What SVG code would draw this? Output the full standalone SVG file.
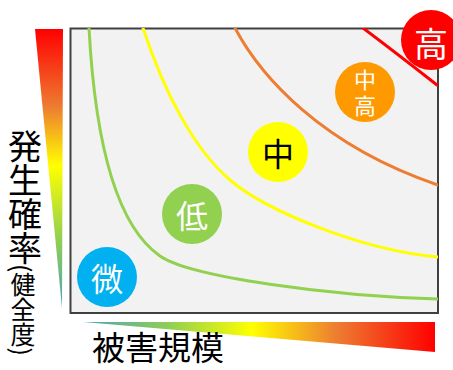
<svg xmlns="http://www.w3.org/2000/svg" width="453" height="370" viewBox="0 0 453 370">
<defs>
<linearGradient id="gv" x1="0" y1="0" x2="0" y2="1">
<stop offset="0" stop-color="#ff0000"/>
<stop offset="0.28" stop-color="#ed7d31"/>
<stop offset="0.49" stop-color="#ffff00"/>
<stop offset="0.75" stop-color="#92d050"/>
<stop offset="1" stop-color="#4aa4b8"/>
</linearGradient>
<linearGradient id="gh" x1="0" y1="0" x2="1" y2="0">
<stop offset="0" stop-color="#4aa4b8"/>
<stop offset="0.25" stop-color="#92d050"/>
<stop offset="0.48" stop-color="#ffff00"/>
<stop offset="0.72" stop-color="#ed7d31"/>
<stop offset="1" stop-color="#ff0000"/>
</linearGradient>
<clipPath id="box"><rect x="70" y="28" width="368" height="285"/></clipPath>
<style>
text{font-family:"Noto Sans CJK JP","Noto Sans CJK SC",sans-serif}
.c{fill:none;stroke-width:3;stroke-linecap:round}
.lbl{text-anchor:middle;dominant-baseline:central}
</style>
</defs>
<polygon points="35,29 63,29 62,308" fill="url(#gv)"/>
<polygon points="83,322 435,322 435,352" fill="url(#gh)"/>
<rect x="70.5" y="28.5" width="367.5" height="284.5" fill="#f2f2f2" stroke="#404040" stroke-width="2"/>
<g id="connectors" clip-path="url(#box)">
<path class="c" stroke="#92d050" d="M89,28 C95,140 115,225 160,256 C190,277 330,296 438,299"/>
<path class="c" stroke="#ffff00" d="M143,28 C165,95 195,150 230,180 C265,210 360,250 438,257"/>
<path class="c" stroke="#ed7d31" d="M235,28 C260,75 320,145 438,185"/>
<path class="c" stroke="#ff0000" stroke-width="3.5" d="M363,28 Q395,52 437,85"/>
</g>
<g id="n-wei"><circle cx="107" cy="277" r="30" fill="#00b0f0"/><text class="lbl" x="107" y="277" font-size="32" fill="#fff">微</text></g>
<g id="n-low"><circle cx="192" cy="214" r="30" fill="#92d050"/><text class="lbl" x="192" y="214" font-size="32" fill="#fff">低</text></g>
<g id="n-mid"><circle cx="278" cy="152" r="30" fill="#ffff00"/><text class="lbl" x="278" y="152" font-size="32" fill="#000">中</text></g>
<g id="n-midhigh"><circle cx="365" cy="92" r="30" fill="#ff9900"/><text x="365" y="69" font-size="22" fill="#fff" letter-spacing="4" style="writing-mode:vertical-rl">中高</text></g>
<g id="n-high"><circle cx="431" cy="40" r="30" fill="#ff0000"/><text class="lbl" x="431" y="42" font-size="34" fill="#fff">高</text></g>
<text x="25" y="129" font-size="34" fill="#000" style="writing-mode:vertical-rl">発生確率</text>
<text x="23" y="264" font-size="25" fill="#000" style="writing-mode:vertical-rl">(健全度)</text>
<text x="92" y="360" font-size="33" fill="#000">被害規模</text>
</svg>
